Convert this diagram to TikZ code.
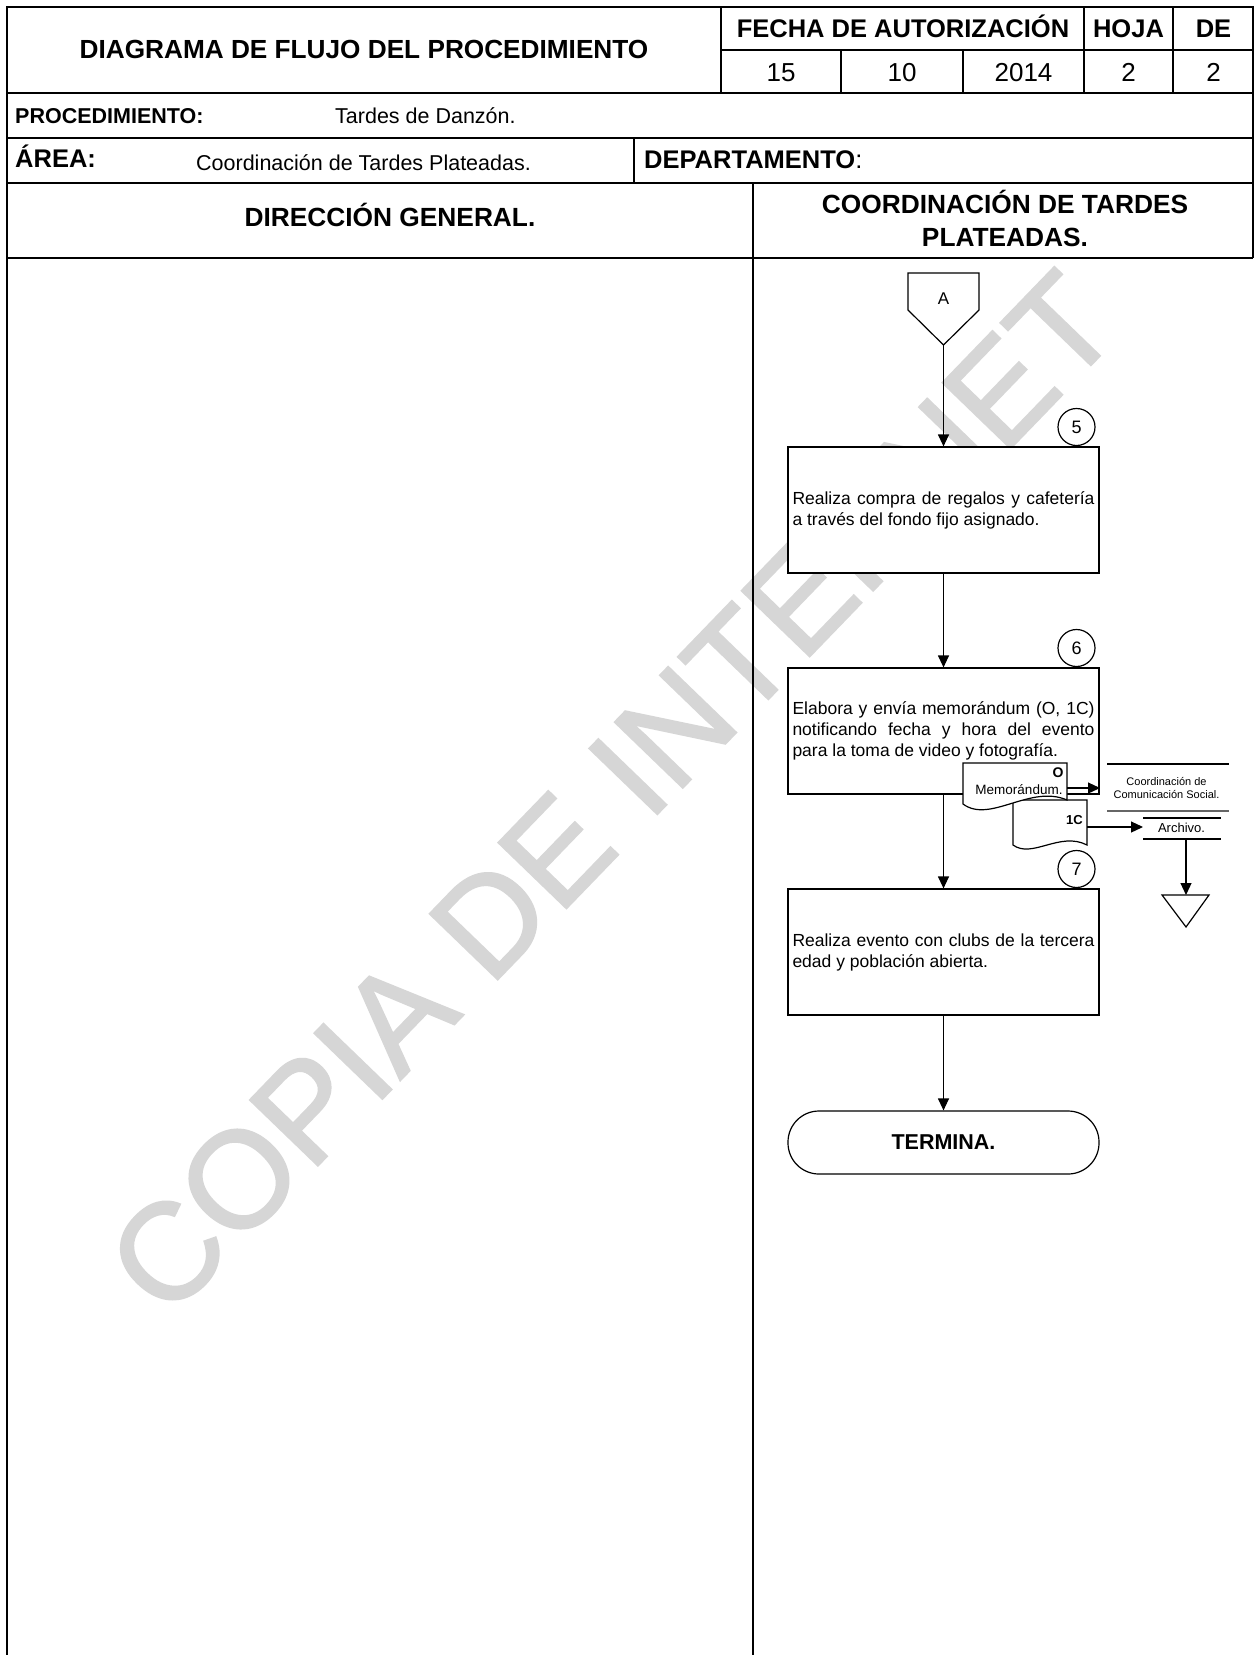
\documentclass[tikz,border=0pt]{standalone}
\usepackage{fontspec}
\setmainfont{Liberation Sans}
\newfontfamily\wmfont[FakeBold=1.6]{Liberation Sans}
\usetikzlibrary{arrows.meta}
\begin{document}
\begin{tikzpicture}[x=1pt,y=-1pt,
  frame/.style={line width=1.8pt},
  flow/.style={line width=1.2pt},
  arr/.style={flow,-{Triangle[length=12pt,width=11pt]}},
  procbox/.style={draw,flow,fill=white,minimum width=311pt,minimum height=126pt,inner sep=0pt,align=left,font=\fontsize{17.5}{21}\selectfont},
  stepnum/.style={draw,flow,circle,fill=white,minimum size=37pt,inner sep=0pt,font=\fontsize{18}{20}\selectfont},
  hbig/.style={anchor=base,inner sep=0pt,font=\bfseries\fontsize{25.5}{28}\selectfont},
  hlane/.style={anchor=base,inner sep=0pt,font=\bfseries\fontsize{26.3}{30}\selectfont},
  hnum/.style={anchor=base,inner sep=0pt,font=\fontsize{26}{30}\selectfont},
  hlab/.style={anchor=base west,inner sep=0pt,font=\bfseries\fontsize{21.5}{25}\selectfont},
  hval/.style={anchor=base west,inner sep=0pt,font=\fontsize{21.5}{25}\selectfont},
  small/.style={inner sep=0pt,font=\fontsize{11}{13}\selectfont,align=center}
]
\useasboundingbox (0,0) rectangle (1254,1655);
\fill[white] (0,0) rectangle (1254,1655);

% watermark
\node[font=\wmfont\fontsize{137}{137}\selectfont, text=black!16, rotate=46, inner sep=0pt] (wm) at (612,793) {COPIA DE INTERNET};

% frame
\draw[frame] (7,1655) -- (7,7) -- (1253,7) -- (1253,258);
\draw[frame] (7,93) -- (1253,93);
\draw[frame] (7,138) -- (1253,138);
\draw[frame] (7,183) -- (1253,183);
\draw[frame] (7,258) -- (1253,258);
\draw[frame] (721,7) -- (721,93);
\draw[frame] (721,50) -- (1253,50);
\draw[frame] (1084,7) -- (1084,93);
\draw[frame] (1173,7) -- (1173,93);
\draw[frame] (841,50) -- (841,93);
\draw[frame] (963,50) -- (963,93);
\draw[frame] (634,138) -- (634,183);
\draw[frame] (753,183) -- (753,1655);

% header texts
\node[hbig, font=\bfseries\fontsize{26.2}{28}\selectfont] (title) at (364,58) {DIAGRAMA DE FLUJO DEL PROCEDIMIENTO};
\node[hbig] (fecha) at (903,37.5) {FECHA DE AUTORIZACIÓN};
\node[hbig] (hoja) at (1128.5,37.5) {HOJA};
\node[hbig] (de) at (1213.5,37.5) {DE};
\node[hnum] (dd) at (781,81) {15};
\node[hnum] (mm) at (902,81) {10};
\node[hnum] (yy) at (1023.5,81) {2014};
\node[hnum] (hj) at (1128.5,81) {2};
\node[hnum] (dt) at (1213.5,81) {2};
\node[hlab] (proc) at (15,123) {PROCEDIMIENTO:};
\node[hval] (procv) at (335,123) {Tardes de Danzón.};
\node[hlab, font=\bfseries\fontsize{25.5}{28}\selectfont] (area) at (15,167) {ÁREA:};
\node[hval] (areav) at (196,170) {Coordinación de Tardes Plateadas.};
\node[hlab, font=\bfseries\fontsize{25.5}{28}\selectfont] (dep) at (644,168.5) {DEPARTAMENTO{\mdseries:}};
\node[hlane] (lane1) at (390,226.5) {DIRECCIÓN GENERAL.};
\node[hlane] (lane2a) at (1005,213) {COORDINACIÓN DE TARDES};
\node[hlane] (lane2b) at (1005,246) {PLATEADAS.};

% connector A
\draw[flow,fill=white] (908,273) -- (979,273) -- (979,310) -- (943.5,345) -- (908,310) -- cycle;
\node[inner sep=0pt,font=\fontsize{17}{19}\selectfont] (conA) at (943.5,299) {A};
\coordinate (Atip) at (943.5,345);

% process boxes
\node[procbox] (b5) at (943.5,510) {\makebox[302pt][s]{Realiza compra de regalos y cafetería}\\\makebox[302pt][l]{a través del fondo fijo asignado.}};
\node[procbox] (b6) at (943.5,731) {\makebox[302pt][s]{Elabora y envía memorándum (O, 1C)}\\\makebox[302pt][s]{notificando fecha y hora del evento}\\\makebox[302pt][l]{para la toma de video y fotografía.}};
\node[procbox] (b7) at (943.5,952) {\makebox[302pt][s]{Realiza evento con clubs de la tercera}\\\makebox[302pt][l]{edad y población abierta.}};
\node[draw,flow,fill=white,minimum width=311pt,minimum height=63pt,rounded corners=31pt,inner sep=0pt,font=\bfseries\fontsize{21.5}{24}\selectfont] (term) at (943.5,1142.5) {TERMINA.};

\node[stepnum] (c5) at (1076.5,427) {5};
\node[stepnum] (c6) at (1076.5,648) {6};
\node[stepnum] (c7) at (1076.5,869) {7};

\draw[arr] (Atip) -- (b5.north);
\draw[arr] (b5.south) -- (b6.north);
\draw[arr] (b6.south) -- (b7.north);
\draw[arr] (b7.south) -- (term.north);

% documents
\draw[flow,fill=white] (1013,800) -- (1087,800) -- (1087,845) .. controls (1060,831) and (1032,859) .. (1013,845) -- cycle;
\draw[flow,fill=white] (963,763) -- (1067,763) -- (1067,800) .. controls (1030,784) and (990,824) .. (963,804) -- cycle;
\node[inner sep=0pt,font=\bfseries\fontsize{14}{16}\selectfont] (memoO) at (1058,773) {O};
\node[inner sep=0pt,font=\fontsize{13.5}{16}\selectfont] (memo) at (1019,790) {Memorándum.};
\node[inner sep=0pt,font=\bfseries\fontsize{13}{15}\selectfont] (oneC) at (1074.5,820) {1C};
\coordinate (memoR) at (1067,788);
\coordinate (edge6) at (1100,788);
\coordinate (copyR) at (1087,827);

% destinations
\node[small] (ccs) at (1166.5,787.5) {Coordinación de\\Comunicación Social.};
\draw[flow] (1107,764) -- (1229,764);
\draw[line width=1.6pt,black!60] (1107,811) -- (1229,811);
\node[inner sep=0pt,font=\fontsize{13}{15}\selectfont] (arch) at (1181.5,827.5) {Archivo.};
\draw[flow] (1143,818) -- (1221,818);
\draw[flow] (1143,839) -- (1221,839);
\coordinate (archL) at (1143,827);
\coordinate (archB) at (1186,839);
\coordinate (tritop) at (1186,895);
\draw[flow] (1162,895) -- (1209,895) -- (1186,927) -- cycle;

\draw[arr] (memoR) -- (edge6);
\draw[arr] (copyR) -- (archL);
\draw[arr] (archB) -- (tritop);
\end{tikzpicture}
\end{document}
